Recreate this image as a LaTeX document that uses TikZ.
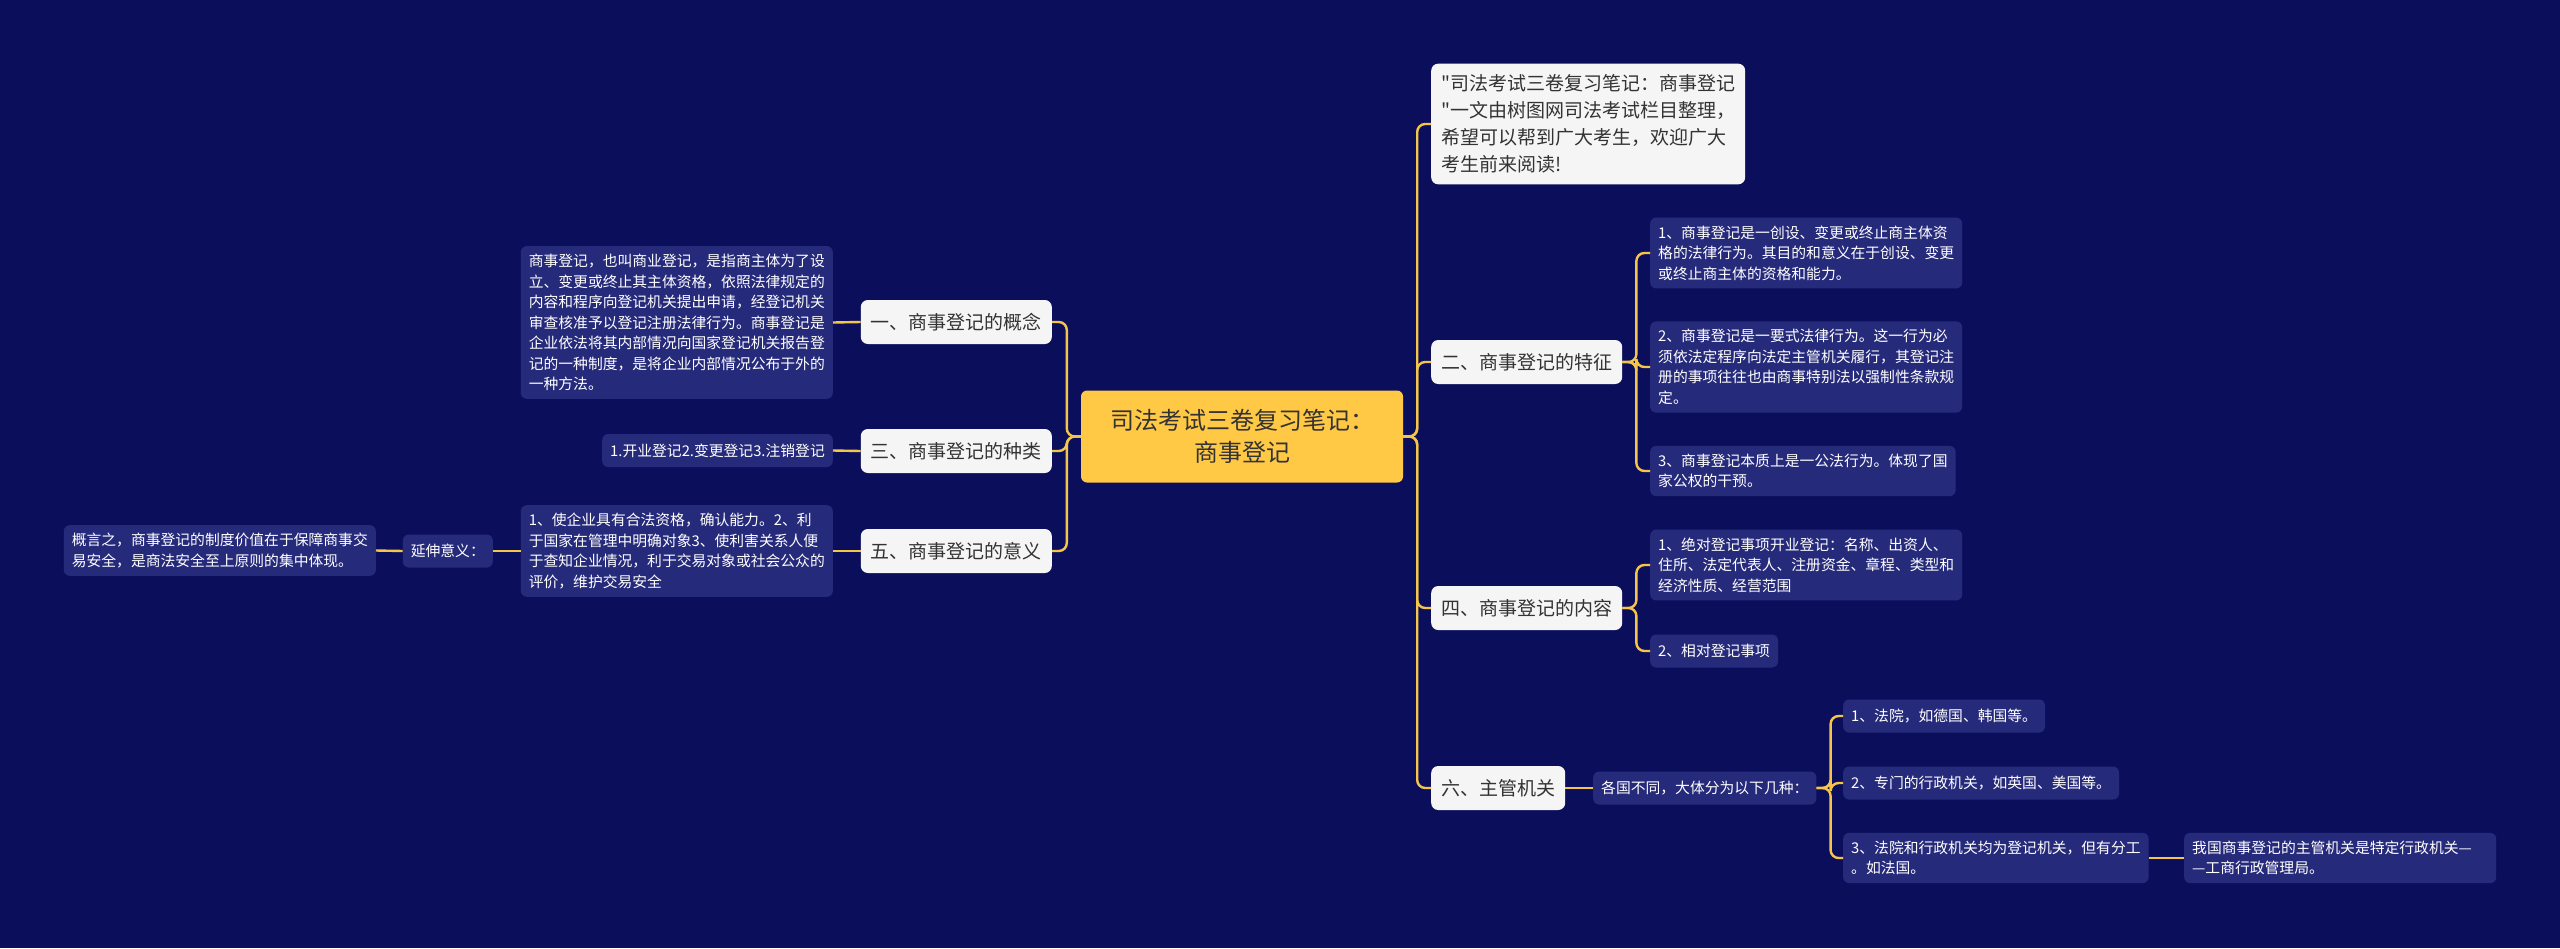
\documentclass[tikz,border=0pt]{standalone}
\usepackage{fontspec}
\setmainfont{Noto Sans CJK SC}
\newfontfamily\cjkfont{Noto Sans CJK SC}
\definecolor{bgnavy}{HTML}{0B0F5B}
\definecolor{leafblue}{HTML}{262A7B}
\definecolor{rootgold}{HTML}{FFC845}
\definecolor{linkgold}{HTML}{F5C54A}
\definecolor{topicwhite}{HTML}{F5F5F5}
\definecolor{inkgray}{HTML}{333333}

\begin{document}
\begin{tikzpicture}[x=1pt, y=-1pt,
    link/.style={draw=linkgold, line width=2.4pt, rounded corners=8pt},
    rootbox/.style={fill=rootgold, rounded corners=6pt, text=inkgray, align=center,
        font=\cjkfont\fontsize{24pt}{32pt}\selectfont, minimum width=322pt, minimum height=92pt},
    topic/.style={fill=topicwhite, rounded corners=7pt, text=inkgray, align=left,
        font=\cjkfont\fontsize{19pt}{27pt}\selectfont, inner xsep=10pt, inner ysep=11pt, minimum height=44pt},
    leaf/.style={fill=leafblue, rounded corners=6pt, text=white, align=left,
        font=\cjkfont\fontsize{14.8pt}{20.5pt}\selectfont, inner xsep=8pt, inner ysep=8pt, minimum height=33pt}]

    % Canvas
    \fill[bgnavy] (0,0) rectangle (2560,948);
    \useasboundingbox (0,0) rectangle (2560,948);

    % Central topic
    \node[rootbox] (root) at (1242,436.5) {司法考试三卷复习笔记：\\商事登记};

    % Left branches
    \node[topic, anchor=east] (concept) at (1052,322) {一、商事登记的概念};
    \node[topic, anchor=east] (kinds) at (1052,451) {三、商事登记的种类};
    \node[topic, anchor=east] (meaning) at (1052,551) {五、商事登记的意义};

    \node[leaf, anchor=east] (conceptText) at (833,322.5) {商事登记，也叫商业登记，是指商主体为了设\\立、变更或终止其主体资格，依照法律规定的\\内容和程序向登记机关提出申请，经登记机关\\审查核准予以登记注册法律行为。商事登记是\\企业依法将其内部情况向国家登记机关报告登\\记的一种制度，是将企业内部情况公布于外的\\一种方法。};
    \node[leaf, anchor=east] (kindsText) at (833,450.5) {1.开业登记2.变更登记3.注销登记};
    \node[leaf, anchor=east] (meaningText) at (833,551) {1、使企业具有合法资格，确认能力。2、利\\于国家在管理中明确对象3、使利害关系人便\\于查知企业情况，利于交易对象或社会公众的\\评价，维护交易安全};
    \node[leaf, anchor=east] (extend) at (493,551) {延伸意义：};
    \node[leaf, anchor=east] (extendText) at (376,550.5) {概言之，商事登记的制度价值在于保障商事交\\易安全，是商法安全至上原则的集中体现。};

    % Right branches
    \node[topic, anchor=west] (intro) at (1431,124) {"司法考试三卷复习笔记：商事登记\\"一文由树图网司法考试栏目整理，\\希望可以帮到广大考生，欢迎广大\\考生前来阅读!};
    \node[topic, anchor=west] (traits) at (1431,362) {二、商事登记的特征};
    \node[topic, anchor=west] (content) at (1431,608) {四、商事登记的内容};
    \node[topic, anchor=west] (authority) at (1431,788) {六、主管机关};

    \node[leaf, anchor=west] (trait1) at (1650,253) {1、商事登记是一创设、变更或终止商主体资\\格的法律行为。其目的和意义在于创设、变更\\或终止商主体的资格和能力。};
    \node[leaf, anchor=west] (trait2) at (1650,367) {2、商事登记是一要式法律行为。这一行为必\\须依法定程序向法定主管机关履行，其登记注\\册的事项往往也由商事特别法以强制性条款规\\定。};
    \node[leaf, anchor=west] (trait3) at (1650,471) {3、商事登记本质上是一公法行为。体现了国\\家公权的干预。};

    \node[leaf, anchor=west] (content1) at (1650,565) {1、绝对登记事项开业登记：名称、出资人、\\住所、法定代表人、注册资金、章程、类型和\\经济性质、经营范围};
    \node[leaf, anchor=west] (content2) at (1650,651) {2、相对登记事项};

    \node[leaf, anchor=west] (kindsOf) at (1593,788) {各国不同，大体分为以下几种：};
    \node[leaf, anchor=west] (court) at (1843,716) {1、法院，如德国、韩国等。};
    \node[leaf, anchor=west] (agency) at (1843,783) {2、专门的行政机关，如英国、美国等。};
    \node[leaf, anchor=west] (mixed) at (1843,858) {3、法院和行政机关均为登记机关，但有分工\\。如法国。};
    \node[leaf, anchor=west, text width=296pt] (china) at (2184,858) {我国商事登记的主管机关是特定行政机关—\\—工商行政管理局。};

    % Connectors, left side
    \foreach \b in {concept, kinds, meaning}
        \draw[link] (root.west) -- ++(-14,0) |- (\b.east);
    \draw[link] (concept.west) -- (conceptText.east);
    \draw[link] (kinds.west) -- (kindsText.east);
    \draw[link] (meaning.west) -- (meaningText.east);
    \draw[link] (meaningText.west) -- (extend.east);
    \draw[link] (extend.west) -- (extendText.east);

    % Connectors, right side
    \foreach \b in {intro, traits, content, authority}
        \draw[link] (root.east) -- ++(14,0) |- (\b.west);
    \foreach \l in {trait1, trait2, trait3}
        \draw[link] (traits.east) -- ++(14,0) |- (\l.west);
    \foreach \l in {content1, content2}
        \draw[link] (content.east) -- ++(14,0) |- (\l.west);
    \draw[link] (authority.east) -- (kindsOf.west);
    \foreach \l in {court, agency, mixed}
        \draw[link] (kindsOf.east) -- ++(14,0) |- (\l.west);
    \draw[link] (mixed.east) -- (china.west);

\end{tikzpicture}
\end{document}
